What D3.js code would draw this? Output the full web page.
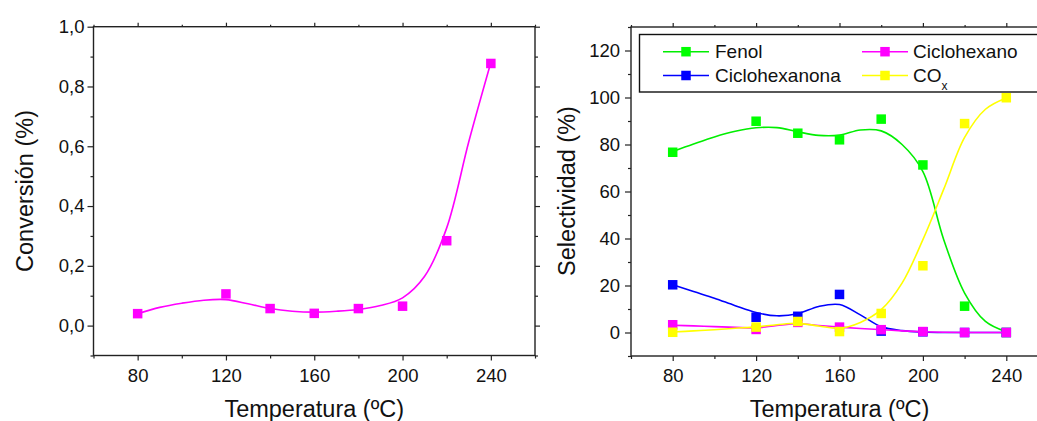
<!DOCTYPE html>
<html>
<head>
<meta charset="utf-8">
<script src="https://cdn.jsdelivr.net/npm/d3@7"></script>
<style>
  html, body { margin: 0; padding: 0; background: #fff; }
  svg { display: block; overflow: hidden; }
  text { font-family: "Liberation Sans", Arial, sans-serif; fill: #111; }
</style>
</head>
<body>
<svg id="chart" width="1037" height="421"></svg>
<script>
// ---------------- DATA ----------------
const temps = [80, 120, 140, 160, 180, 200, 220, 240];
const conversion = [0.040, 0.106, 0.057, 0.041, 0.057, 0.065, 0.284, 0.877];

// smoothed fit curves
const fitTemps = [80, 90, 100, 110, 120, 130, 140, 150, 160, 170, 180, 190, 200, 210, 220, 230, 240];
const conversionFit = [0.040, 0.061, 0.075, 0.085, 0.087, 0.073, 0.057, 0.048, 0.045, 0.048, 0.054, 0.067, 0.093, 0.165, 0.327, 0.615, 0.880];

const seriesNames = ["Fenol", "Ciclohexanona", "Ciclohexano", "CO"];
const fenol         = [76.7, 89.9, 84.8, 82.0, 90.8, 71.3, 11.2, 0.0];
const ciclohexanona = [20.3, 6.5, 6.9, 16.2, 0.6, 0.3, 0.0, 0.0];
const ciclohexano   = [3.3, 1.3, 4.3, 2.3, 1.2, 0.4, 0.0, 0.0];
const cox           = [0.1, 2.3, 4.7, 0.4, 8.1, 28.4, 88.9, 99.9];

const fenolFit         = [77.0, 80.2, 83.2, 85.6, 87.1, 87.2, 85.4, 83.9, 84.0, 86.2, 85.8, 80.0, 68.5, 39.5, 16.8, 4.7, 0.3];
const ciclohexanonaFit = [20.3, 17.4, 14.6, 11.4, 8.5, 7.1, 8.0, 11.1, 11.9, 7.5, 2.5, 0.8, 0.2, 0.0, 0.0, 0.0, 0.0];
const ciclohexanoFit   = [3.1, 2.8, 2.5, 2.2, 2.0, 3.0, 3.7, 3.0, 2.3, 1.7, 1.2, 0.7, 0.3, 0.1, 0.0, 0.0, 0.0];
const coxFit           = [0.2, 0.7, 1.2, 1.8, 2.4, 3.3, 3.9, 2.8, 1.8, 4.3, 9.7, 21.0, 39.5, 61.0, 83.0, 95.0, 99.8];

const xMajorTicks = [80, 120, 160, 200, 240];
const xMinorTicks = [60, 100, 140, 180, 220, 260];
const convMajorTicks = [0, 0.2, 0.4, 0.6, 0.8, 1.0];
const convMinorTicks = [-0.1, 0.1, 0.3, 0.5, 0.7, 0.9];
const selMajorTicks = [0, 20, 40, 60, 80, 100, 120];
const selMinorTicks = [-10, 10, 30, 50, 70, 90, 110, 130];

const colors = { Fenol: "#00ee00", Ciclohexanona: "#0000ff", Ciclohexano: "#ff00ff", CO: "#ffff00" };
const markerColors = { Fenol: "#00ff00", Ciclohexanona: "#0000ff", Ciclohexano: "#ff00ff", CO: "#ffff00" };

// ---------------- DRAW ----------------
const svg = d3.select("#chart");
const FONT_TICK = 18.5, FONT_TITLE = 23.5, FONT_LEG = 19;
const MS = 9.5;

function drawFrame(g, x, y, xMaj, xMin, yMaj, yMin, yFmt, yPad) {
  const [x0, x1] = x.range();
  const [y0, y1] = y.range(); // y0 bottom, y1 top
  // bottom axis
  const bMaj = g.append("g").attr("transform", `translate(0,${y0})`)
    .call(d3.axisBottom(x).tickValues(xMaj).tickSize(5).tickPadding(8).tickFormat(d3.format("d")));
  const bMin = g.append("g").attr("transform", `translate(0,${y0})`)
    .call(d3.axisBottom(x).tickValues(xMin).tickSize(3).tickFormat(""));
  // top axis
  const tMaj = g.append("g").attr("transform", `translate(0,${y1})`)
    .call(d3.axisTop(x).tickValues(xMaj).tickSize(4).tickFormat(""));
  const tMin = g.append("g").attr("transform", `translate(0,${y1})`)
    .call(d3.axisTop(x).tickValues(xMin).tickSize(2).tickFormat(""));
  // left axis
  const lMaj = g.append("g").attr("transform", `translate(${x0},0)`)
    .call(d3.axisLeft(y).tickValues(yMaj).tickSize(6).tickPadding(yPad).tickFormat(yFmt));
  const lMin = g.append("g").attr("transform", `translate(${x0},0)`)
    .call(d3.axisLeft(y).tickValues(yMin).tickSize(3).tickFormat(""));
  // right axis
  const rMaj = g.append("g").attr("transform", `translate(${x1},0)`)
    .call(d3.axisRight(y).tickValues(yMaj).tickSize(5).tickFormat(""));
  const rMin = g.append("g").attr("transform", `translate(${x1},0)`)
    .call(d3.axisRight(y).tickValues(yMin).tickSize(3).tickFormat(""));
  [bMaj, bMin, tMaj, tMin, lMaj, lMin, rMaj, rMin].forEach(a => {
    a.select(".domain").remove();
    a.selectAll("line").attr("stroke", "#222").attr("stroke-width", 1.2);
    a.selectAll("text").style("font-size", FONT_TICK + "px").attr("fill", "#111")
      .style("font-family", '"Liberation Sans", Arial, sans-serif');
  });
  g.append("rect")
    .attr("x", x0).attr("y", y1).attr("width", x1 - x0).attr("height", y0 - y1)
    .attr("fill", "none").attr("stroke", "#222").attr("stroke-width", 1.4);
}

function drawSeries(g, x, y, vals, fit, lineColor, markColor) {
  const line = d3.line().x((d, i) => x(fitTemps[i])).y(d => y(d)).curve(d3.curveCatmullRom.alpha(0.5));
  g.append("path").datum(fit).attr("d", line)
    .attr("fill", "none").attr("stroke", lineColor).attr("stroke-width", 1.6);
  g.selectAll(null).data(vals).enter().append("rect")
    .attr("x", (d, i) => x(temps[i]) - MS / 2)
    .attr("y", d => y(d) - MS / 2)
    .attr("width", MS).attr("height", MS)
    .attr("fill", markColor);
}

// ---- Left chart: Conversión ----
const xL = d3.scaleLinear().domain([60, 260]).range([93.5, 535]);
const yL = d3.scaleLinear().domain([-0.1, 1.0]).range([355.5, 26.7]);
const gL = svg.append("g");
drawFrame(gL, xL, yL, xMajorTicks, xMinorTicks, convMajorTicks, convMinorTicks,
  d => d3.format(".1f")(d).replace(".", ","), 3);
drawSeries(gL, xL, yL, conversion, conversionFit, "#ff00ff", "#ff00ff");
gL.append("text").attr("x", (93.5 + 535) / 2).attr("y", 416.5).attr("text-anchor", "middle")
  .style("font-size", FONT_TITLE + "px").text("Temperatura (ºC)");
gL.append("text").attr("transform", `translate(33,191) rotate(-90)`).attr("text-anchor", "middle")
  .style("font-size", FONT_TITLE + "px").text("Conversión (%)");

// ---- Right chart: Selectividad ----
const xR = d3.scaleLinear().domain([60, 260]).range([631, 1048]);
const yR = d3.scaleLinear().domain([-10, 130]).range([356, 27]);
const gR = svg.append("g");
drawFrame(gR, xR, yR, xMajorTicks, xMinorTicks, selMajorTicks, selMinorTicks, d3.format("d"), 5);

const seriesVals = [fenol, ciclohexanona, ciclohexano, cox];
const seriesFits = [fenolFit, ciclohexanonaFit, ciclohexanoFit, coxFit];
seriesNames.forEach((n, i) => drawSeries(gR, xR, yR, seriesVals[i], seriesFits[i], colors[n], markerColors[n]));

gR.append("text").attr("x", (631 + 1048) / 2).attr("y", 416.5).attr("text-anchor", "middle")
  .style("font-size", FONT_TITLE + "px").text("Temperatura (ºC)");
gR.append("text").attr("transform", `translate(575,191) rotate(-90)`).attr("text-anchor", "middle")
  .style("font-size", FONT_TITLE + "px").text("Selectividad (%)");

// legend
const leg = gR.append("g");
leg.append("rect").attr("x", 639.5).attr("y", 34.5).attr("width", 420).attr("height", 57.5)
  .attr("fill", "#fff").attr("stroke", "#111").attr("stroke-width", 1.4);
const legPos = [
  { lx: 663, rowY: 51.7, tx: 715 },  // Fenol
  { lx: 663, rowY: 75.5, tx: 715 },  // Ciclohexanona
  { lx: 862, rowY: 51.7, tx: 913 },  // Ciclohexano
  { lx: 862, rowY: 75.5, tx: 913 }   // CO_x
];
seriesNames.forEach((n, i) => {
  const p = legPos[i];
  leg.append("line").attr("x1", p.lx).attr("x2", p.lx + 46).attr("y1", p.rowY).attr("y2", p.rowY)
    .attr("stroke", colors[n]).attr("stroke-width", 1.6);
  leg.append("rect").attr("x", p.lx + 23 - MS / 2).attr("y", p.rowY - MS / 2)
    .attr("width", MS).attr("height", MS).attr("fill", markerColors[n]);
  const t = leg.append("text").attr("x", p.tx).attr("y", p.rowY + 6.5).style("font-size", FONT_LEG + "px").text(n);
  if (n === "CO") {
    t.append("tspan").attr("dy", 8).style("font-size", "12px").text("x");
  }
});
</script>
</body>
</html>
